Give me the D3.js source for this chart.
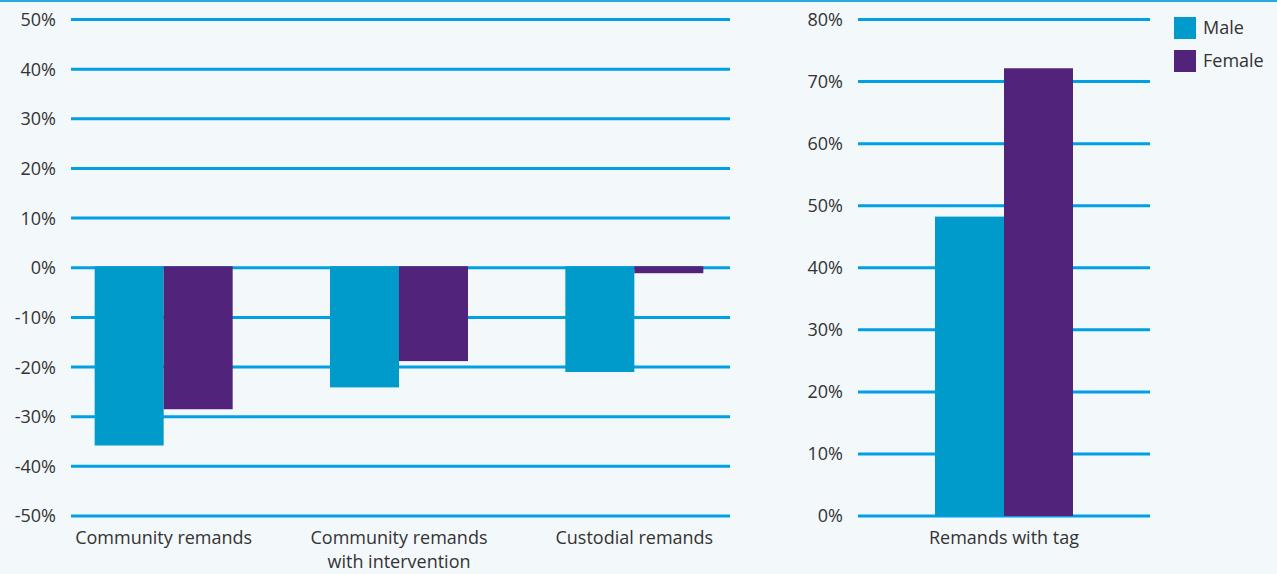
<!DOCTYPE html>
<html>
<head>
<meta charset="utf-8">
<script src="https://cdn.jsdelivr.net/npm/d3@7"></script>
<style>
  body { margin: 0; background: #f3f8fb; }
  svg { display: block; font-family: "Open Sans", "Noto Sans", sans-serif; }
</style>
</head>
<body>
<svg id="chart"></svg>
<script>
// Data
const categories = ["Community remands", "Community remands\nwith intervention", "Custodial remands"];
const maleChange = [-35.8, -24.1, -21.0];
const femaleChange = [-28.5, -18.8, -1.1];

const tagCategories = ["Remands with tag"];
const maleTag = [48.0];
const femaleTag = [71.9];

const series = ["Male", "Female"];
const leftTicks = [-50, -40, -30, -20, -10, 0, 10, 20, 30, 40, 50];
const rightTicks = [0, 10, 20, 30, 40, 50, 60, 70, 80];

function drawChart() {
    const width = 1277;
    const height = 574;
    const colors = d3.scaleOrdinal().domain(series).range(["#009bca", "#51237a"]);
    const gridColor = "#00a0e3";

    const svg = d3.select("#chart")
        .attr("width", width)
        .attr("height", height);

    // thin rule along the top
    svg.append("rect")
        .attr("x", 0).attr("y", 0)
        .attr("width", width).attr("height", 2)
        .style("fill", "#29a8e0");

    // Draw a grouped bar panel
    function panel(opts) {
        const g = svg.append("g");
        const y = d3.scaleLinear().domain(opts.domain).range([516, 19.5]);
        const x0 = d3.scaleBand().domain(opts.cats).range(opts.bandRange);
        const x1 = d3.scaleBand().domain(series).range([0, 138]);
        const offset = (x0.bandwidth() - 138) / 2;

        // gridlines
        g.selectAll(".grid")
            .data(opts.ticks)
            .enter().append("line")
            .attr("x1", opts.gridX[0]).attr("x2", opts.gridX[1])
            .attr("y1", d => y(d)).attr("y2", d => y(d))
            .style("stroke", gridColor)
            .style("stroke-width", 3);

        // tick labels
        g.selectAll(".tick-label")
            .data(opts.ticks)
            .enter().append("text")
            .attr("x", opts.labelX)
            .attr("y", d => y(d))
            .attr("dy", "0.36em")
            .attr("text-anchor", "end")
            .style("font-size", "18px")
            .style("fill", "#333")
            .text(d => d + "%");

        // bars
        const rows = opts.cats.map((c, i) => ({ cat: c, values: [opts.male[i], opts.female[i]] }));
        const groups = g.selectAll(".group")
            .data(rows)
            .enter().append("g")
            .attr("transform", d => `translate(${x0(d.cat) + offset},0)`);

        groups.selectAll("rect")
            .data(d => d.values.map((v, j) => ({ key: series[j], value: v })))
            .enter().append("rect")
            .attr("x", d => x1(d.key))
            .attr("width", x1.bandwidth())
            .attr("y", d => Math.min(y(0), y(d.value)) - 1.5)
            .attr("height", d => Math.abs(y(d.value) - y(0)) + 1.5)
            .style("fill", d => colors(d.key));

        // category labels
        const labels = g.selectAll(".cat-label")
            .data(opts.cats)
            .enter().append("text")
            .attr("x", d => x0(d) + x0.bandwidth() / 2)
            .attr("y", 544)
            .attr("text-anchor", "middle")
            .style("font-size", "18px")
            .style("fill", "#333");
        labels.each(function (d) {
            d.split("\n").forEach((line, i) => {
                d3.select(this).append("tspan")
                    .attr("x", d3.select(this).attr("x"))
                    .attr("dy", i === 0 ? 0 : "1.35em")
                    .text(line);
            });
        });
    }

    panel({
        cats: categories, male: maleChange, female: femaleChange,
        domain: [-50, 50], ticks: leftTicks,
        bandRange: [46, 752], gridX: [71, 730], labelX: 56
    });

    panel({
        cats: tagCategories, male: maleTag, female: femaleTag,
        domain: [0, 80], ticks: rightTicks,
        bandRange: [858, 1150], gridX: [858, 1150], labelX: 843
    });

    // legend
    const legend = svg.selectAll(".legend")
        .data(series)
        .enter().append("g")
        .attr("transform", (d, i) => `translate(1174, ${17 + i * 33})`);

    legend.append("rect")
        .attr("width", 22)
        .attr("height", 22)
        .style("fill", d => colors(d));

    legend.append("text")
        .attr("x", 29)
        .attr("y", 11)
        .attr("dy", "0.36em")
        .style("font-size", "18px")
        .style("fill", "#333")
        .text(d => d);
}

window.addEventListener("load", drawChart);
</script>
</body>
</html>
